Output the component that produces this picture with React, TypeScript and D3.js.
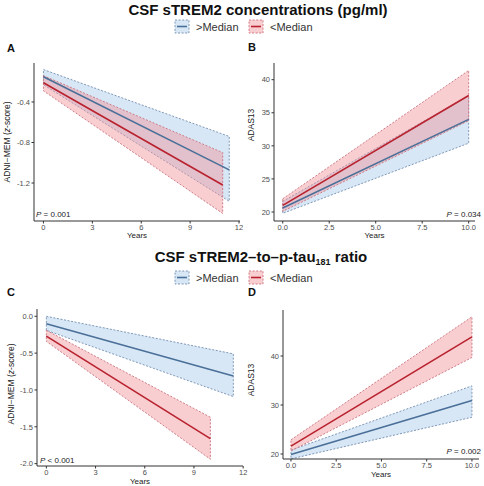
import React from "react";
import * as d3 from "d3";

// ---------- data ----------
const groups = [">Median", "<Median"];
const titles = ["CSF sTREM2 concentrations (pg/ml)", "CSF sTREM2\u2013to\u2013p-tau", "181", " ratio"];
const panelLetters = ["A", "B", "C", "D"];
const pValues = ["= 0.001", "= 0.034", "< 0.001", "= 0.002"];

const xTicksMem = [0, 3, 6, 9, 12];
const xTicksAdas = [0, 2.5, 5, 7.5, 10];
const yTicksA = [-0.4, -0.8, -1.2];
const yTicksB = [20, 25, 30, 35, 40];
const yTicksC = [0, -0.5, -1.0, -1.5, -2.0];
const yTicksD = [20, 30, 40];

// fitted trajectories: [start, end]
const aHighYears = [0, 11.4];
const aHighFit = [-0.15, -1.07];
const aHighUpper = [-0.08, -0.74];
const aHighLower = [-0.23, -1.38];
const aLowYears = [0, 11];
const aLowFit = [-0.21, -1.22];
const aLowUpper = [-0.14, -0.9];
const aLowLower = [-0.29, -1.5];

const bHighYears = [0, 10];
const bHighFit = [20.6, 34.0];
const bHighUpper = [21.6, 37.6];
const bHighLower = [19.8, 30.4];
const bLowYears = [0, 10];
const bLowFit = [21.0, 37.6];
const bLowUpper = [22.0, 41.4];
const bLowLower = [20.1, 33.8];

const cHighYears = [0, 11.4];
const cHighFit = [-0.1, -0.81];
const cHighUpper = [0.0, -0.51];
const cHighLower = [-0.19, -1.09];
const cLowYears = [0, 10];
const cLowFit = [-0.27, -1.66];
const cLowUpper = [-0.19, -1.37];
const cLowLower = [-0.34, -1.94];

const dHighYears = [0, 10];
const dHighFit = [19.9, 30.9];
const dHighUpper = [20.8, 33.9];
const dHighLower = [19.0, 27.5];
const dLowYears = [0, 10];
const dLowFit = [21.6, 43.9];
const dLowUpper = [22.9, 48.0];
const dLowLower = [20.6, 39.7];

// ---------- styles ----------
const BLUE = "#4a6f98";
const RED = "#b8222e";
const BLUE_FILL = "#a6c9ea";
const RED_FILL = "#f2939a";
const BLUE_DASH = "#8098b8";
const RED_DASH = "#cf7d87";
const FONT = "'Liberation Sans', Arial, Helvetica, sans-serif";
const TXT = "#4d4d4d";

type Series = { years: number[]; fit: number[]; upper: number[]; lower: number[] };

function mk(years: number[], fit: number[], upper: number[], lower: number[]): Series {
  return { years, fit, upper, lower };
}

type PanelCfg = {
  letter: string;
  left: number; right: number; top: number; bottom: number;
  xDomain: [number, number]; yDomain: [number, number];
  xTicks: number[]; yTicks: number[];
  xFmt: (v: number) => string; yFmt: (v: number) => string;
  high: Series; low: Series;
  yTitle: "mem" | "adas";
  yTitleX: number; yTitleY: number;
  yearsY: number;
  letterX: number; letterY: number;
  p: string; pX: number; pY: number; pAnchor: "start" | "end";
};

const fmtInt = (v: number) => d3.format("d")(v);
const fmt1 = (v: number) => d3.format(".1f")(v).replace("\u2212", "-");

function Band({ s, x, y, fill, dash }: { s: Series; x: any; y: any; fill: string; dash: string }) {
  const pts = s.years.map((t, i) => ({ t, lo: s.lower[i], hi: s.upper[i] }));
  const area = d3.area<any>().x((d) => x(d.t)).y0((d) => y(d.lo)).y1((d) => y(d.hi));
  const poly = [
    ...pts.map((d) => [x(d.t), y(d.hi)]),
    ...pts.slice().reverse().map((d) => [x(d.t), y(d.lo)]),
  ];
  const outline = d3.line()(poly as any) + "Z";
  return (
    <g>
      <path d={area(pts) || ""} fill={fill} fillOpacity={0.45} />
      <path d={outline} fill="none" stroke={dash} strokeWidth={1} strokeDasharray="2,1.6" />
    </g>
  );
}

function Fit({ s, x, y, color }: { s: Series; x: any; y: any; color: string }) {
  const pts = s.years.map((t, i) => [x(t), y(s.fit[i])]);
  return <path d={d3.line()(pts as any) || ""} fill="none" stroke={color} strokeWidth={1.6} />;
}

function Panel({ c }: { c: PanelCfg }) {
  const x = d3.scaleLinear().domain(c.xDomain).range([c.left, c.right]);
  const y = d3.scaleLinear().domain(c.yDomain).range([c.bottom, c.top]);
  const midX = (c.left + c.right) / 2;
  return (
    <g fontFamily={FONT}>
      <Band s={c.high} x={x} y={y} fill={BLUE_FILL} dash={BLUE_DASH} />
      <Band s={c.low} x={x} y={y} fill={RED_FILL} dash={RED_DASH} />
      <Fit s={c.high} x={x} y={y} color={BLUE} />
      <Fit s={c.low} x={x} y={y} color={RED} />
      {/* axes */}
      <line x1={c.left} x2={c.left} y1={c.top} y2={c.bottom} stroke="#333" strokeWidth={1} />
      <line x1={c.left} x2={c.right} y1={c.bottom} y2={c.bottom} stroke="#333" strokeWidth={1} />
      {c.xTicks.map((t) => (
        <g key={"x" + t}>
          <line x1={x(t)} x2={x(t)} y1={c.bottom} y2={c.bottom + 2.5} stroke="#333" />
          <text x={x(t)} y={c.bottom + 8.5} fontSize={7.5} fill={TXT} textAnchor="middle">
            {c.xFmt(t)}
          </text>
        </g>
      ))}
      {c.yTicks.map((t) => (
        <g key={"y" + t}>
          <line x1={c.left - 2.5} x2={c.left} y1={y(t)} y2={y(t)} stroke="#333" />
          <text x={c.left - 4} y={y(t) + 2.7} fontSize={7.5} fill={TXT} textAnchor="end">
            {c.yFmt(t)}
          </text>
        </g>
      ))}
      <text x={midX} y={c.yearsY} fontSize={8} fill="#222" textAnchor="middle">
        Years
      </text>
      <text
        transform={`translate(${c.yTitleX},${c.yTitleY}) rotate(-90)`}
        fontSize={8.5}
        fill="#222"
        textAnchor="middle"
        dominantBaseline="middle"
      >
        {c.yTitle === "mem" ? (
          <>
            ADNI{"\u2212"}MEM (<tspan fontStyle="italic">z</tspan>-score)
          </>
        ) : (
          "ADAS13"
        )}
      </text>
      <text x={c.pX} y={c.pY} fontSize={8} fill="#222" textAnchor={c.pAnchor}>
        <tspan fontStyle="italic">P</tspan> {c.p}
      </text>
      <text x={c.letterX} y={c.letterY} fontSize={11} fontWeight="bold" fill="#111">
        {c.letter}
      </text>
    </g>
  );
}

function Legend({ y }: { y: number }) {
  const items = [
    { label: groups[0], line: BLUE, fill: BLUE_FILL, dash: BLUE_DASH, x: 175 },
    { label: groups[1], line: RED, fill: RED_FILL, dash: RED_DASH, x: 249 },
  ];
  return (
    <g fontFamily={FONT}>
      {items.map((it) => (
        <g key={it.label}>
          <rect x={it.x} y={y - 6.5} width={14} height={13} fill={it.fill} fillOpacity={0.45}
            stroke={it.dash} strokeDasharray="2,1.6" strokeWidth={1} />
          <line x1={it.x + 2} x2={it.x + 12} y1={y} y2={y} stroke={it.line} strokeWidth={1.6} />
          <text x={it.x + 21} y={y + 4} fontSize={11} fill="#333">
            {it.label}
          </text>
        </g>
      ))}
    </g>
  );
}

export default function App() {
  const panels: PanelCfg[] = [
    {
      letter: panelLetters[0], left: 34, right: 240, top: 63, bottom: 221,
      xDomain: [-0.58, 12.06], yDomain: [-1.575, -0.015],
      xTicks: xTicksMem, yTicks: yTicksA, xFmt: fmtInt, yFmt: fmt1,
      high: mk(aHighYears, aHighFit, aHighUpper, aHighLower),
      low: mk(aLowYears, aLowFit, aLowUpper, aLowLower),
      yTitle: "mem", yTitleX: 8, yTitleY: 142, yearsY: 238,
      letterX: 7, letterY: 52, p: pValues[0], pX: 36, pY: 216.5, pAnchor: "start",
    },
    {
      letter: panelLetters[1], left: 274, right: 475, top: 63, bottom: 221,
      xDomain: [-0.47, 10.34], yDomain: [18.64, 42.52],
      xTicks: xTicksAdas, yTicks: yTicksB, xFmt: fmt1, yFmt: fmtInt,
      high: mk(bHighYears, bHighFit, bHighUpper, bHighLower),
      low: mk(bLowYears, bLowFit, bLowUpper, bLowLower),
      yTitle: "adas", yTitleX: 252, yTitleY: 125, yearsY: 238,
      letterX: 248, letterY: 51, p: pValues[1], pX: 481, pY: 216.5, pAnchor: "end",
    },
    {
      letter: panelLetters[2], left: 37, right: 243, top: 309, bottom: 466,
      xDomain: [-0.57, 11.99], yDomain: [-2.032, 0.099],
      xTicks: xTicksMem, yTicks: yTicksC, xFmt: fmtInt, yFmt: fmt1,
      high: mk(cHighYears, cHighFit, cHighUpper, cHighLower),
      low: mk(cLowYears, cLowFit, cLowUpper, cLowLower),
      yTitle: "mem", yTitleX: 12, yTitleY: 384, yearsY: 483.5,
      letterX: 7, letterY: 296, p: pValues[2], pX: 40, pY: 462.5, pAnchor: "start",
    },
    {
      letter: panelLetters[3], left: 283, right: 479, top: 310, bottom: 459,
      xDomain: [-0.44, 10.39], yDomain: [18.98, 49.39],
      xTicks: xTicksAdas, yTicks: yTicksD, xFmt: fmt1, yFmt: fmtInt,
      high: mk(dHighYears, dHighFit, dHighUpper, dHighLower),
      low: mk(dLowYears, dLowFit, dLowUpper, dLowLower),
      yTitle: "adas", yTitleX: 252, yTitleY: 380, yearsY: 477,
      letterX: 248, letterY: 296, p: pValues[3], pX: 481, pY: 454, pAnchor: "end",
    },
  ];

  return (
    <svg
      width={484}
      height={486}
      viewBox="0 0 484 486"
      style={{ position: "absolute", left: 0, top: 0, background: "#fff" }}
    >
      <rect width={484} height={486} fill="#fff" />
      <text x={258} y={15} fontFamily={FONT} fontWeight="bold" fontSize={15} textAnchor="middle" fill="#111">
        {titles[0]}
      </text>
      <Legend y={26.5} />
      <text x={261} y={262} fontFamily={FONT} fontWeight="bold" fontSize={15} textAnchor="middle" fill="#111">
        {titles[1]}
        <tspan fontSize={9} dy={3}>{titles[2]}</tspan>
        <tspan dy={-3}>{titles[3]}</tspan>
      </text>
      <Legend y={277.5} />
      {panels.map((p) => (
        <Panel key={p.letter} c={p} />
      ))}
    </svg>
  );
}
